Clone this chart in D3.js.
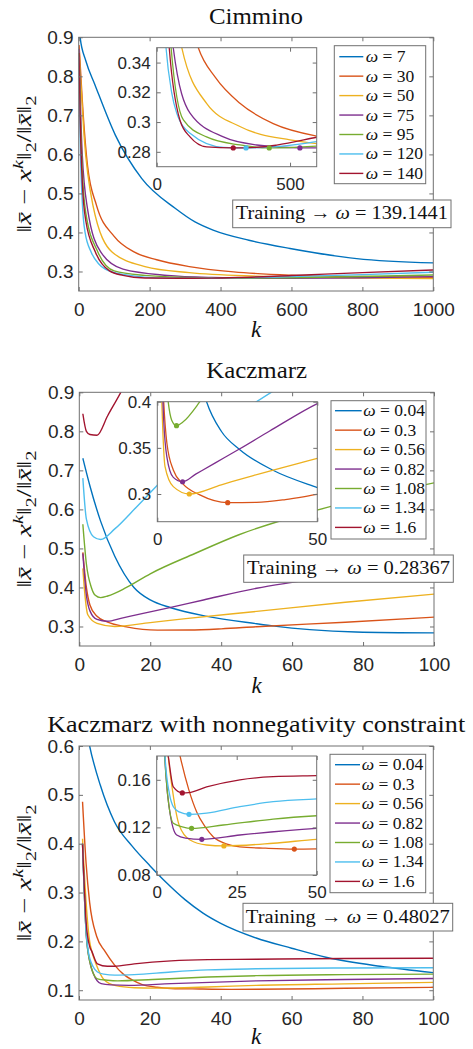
<!DOCTYPE html>
<html>
<head>
<meta charset="utf-8">
<script src="https://cdn.jsdelivr.net/npm/d3@7"></script>
<style>
body { margin: 0; background: #fff; }
svg { display: block; }
.tick text { font-family: "Liberation Sans", Arial, sans-serif; fill: #262626; }
.tick line { stroke: #707070; }
.serif { font-family: "Liberation Serif", "Times New Roman", serif; fill: #111; }
</style>
</head>
<body>
<script>
// MATLAB default line colours, one per omega
var colors = ['#0072BD', '#D95319', '#EDB120', '#7E2F8E', '#77AC30', '#4DBEEE', '#A2142F'];

// ---- Cimmino: [k, relative error] ----
var cimOmega = ['7', '30', '50', '75', '95', '120', '140'];
var cimW7 = [[1,0.93],[4,0.9],[20,0.84],[46,0.778],[103,0.65],[178,0.538],[272,0.462],[328,0.427],[379,0.406],[480,0.38],[596,0.359],[784,0.333],[1000,0.322]];
var cimW30 = [[1,0.88],[3,0.85],[10,0.74],[25,0.57],[50,0.47],[100,0.39],[156,0.35],[220,0.33],[312,0.3126],[437,0.299],[600,0.2906],[800,0.287],[1000,0.285]];
var cimW50 = [[1,0.87],[5,0.8],[15,0.65],[40,0.47],[94,0.35],[187,0.3126],[312,0.297],[500,0.288],[600,0.2855],[800,0.283],[1000,0.282]];
var cimW75 = [[1,0.87],[4,0.76],[10,0.6],[25,0.46],[62,0.35],[125,0.306],[250,0.29],[375,0.2846],[537,0.2826],[600,0.2827],[800,0.284],[1000,0.287]];
var cimW95 = [[1,0.86],[4,0.72],[10,0.56],[20,0.45],[54,0.35],[100,0.3014],[187,0.29],[312,0.2846],[422,0.2826],[600,0.2839],[800,0.287],[1000,0.291]];
var cimW120 = [[1,0.85],[4,0.65],[10,0.48],[18,0.4],[35,0.35],[56,0.32],[75,0.306],[125,0.2925],[250,0.283],[335,0.2826],[450,0.2835],[600,0.2868],[800,0.292],[1000,0.298]];
var cimW140 = [[1,0.86],[4,0.7],[10,0.53],[20,0.43],[47,0.35],[87,0.3014],[125,0.29],[187,0.2833],[287,0.2826],[375,0.283],[450,0.2845],[600,0.2898],[800,0.297],[1000,0.304]];

// ---- Kaczmarz ----
var kacOmega = ['0.04', '0.3', '0.56', '0.82', '1.08', '1.34', '1.6'];
var kacW004 = [[1,0.731],[3,0.66],[6,0.57],[10,0.48],[15.4,0.4],[20,0.368],[25.8,0.348],[36,0.326],[50,0.307],[55,0.301],[65,0.292],[78,0.286],[100,0.2836]];
var kacW03 = [[1,0.49],[2,0.4],[3,0.355],[5,0.326],[8,0.311],[13.3,0.299],[22,0.2906],[31,0.291],[40,0.294],[50,0.2995],[75,0.311],[100,0.324]];
var kacW056 = [[1,0.449],[1.5,0.39],[2.4,0.33],[5,0.308],[10,0.3],[20,0.31],[30,0.32],[50,0.3387],[75,0.362],[100,0.383]];
var kacW082 = [[1,0.487],[2,0.38],[3,0.34],[5,0.318],[7.9,0.3133],[12,0.3215],[18,0.3335],[25.8,0.349],[35,0.368],[50,0.398],[60,0.413],[80,0.44],[100,0.465]];
var kacW108 = [[1,0.562],[2,0.46],[3.4,0.4],[4.5,0.38],[6,0.374],[8,0.378],[13.3,0.4],[20,0.435],[32.6,0.487],[45,0.535],[67,0.598],[100,0.668]];
var kacW134 = [[1,0.68],[2,0.575],[4,0.53],[6,0.523],[10,0.55],[16,0.605],[22,0.662],[35,0.78],[50,0.876],[55,0.905]];
var kacW16 = [[1,0.845],[2,0.8],[3,0.792],[5,0.79],[8,0.84],[12,0.905],[15,0.96]];

// ---- Kaczmarz with nonnegativity constraint ----
var nnOmega = kacOmega;
var nnW004 = [[1,0.68],[3,0.6],[6,0.52],[10,0.445],[15,0.395],[20,0.355],[25,0.318],[30,0.285],[35,0.258],[40,0.237],[50,0.207],[60,0.186],[70,0.167],[85,0.149],[100,0.136]];
var nnW03 = [[1,0.486],[2,0.36],[3,0.28],[5,0.21],[7.3,0.18],[10,0.152],[12.5,0.133],[15,0.121],[17.7,0.112],[22,0.106],[26,0.1036],[34,0.1025],[43,0.1018],[50,0.1019],[75,0.104],[100,0.106]];
var nnW056 = [[1,0.41],[2,0.28],[3,0.2],[3.6,0.18],[5,0.15],[7,0.122],[10.4,0.1094],[15.6,0.1052],[21,0.1044],[36.4,0.1067],[50,0.11],[75,0.113],[100,0.116]];
var nnW082 = [[1,0.4],[2,0.22],[3,0.16],[4,0.135],[6.25,0.1136],[9,0.111],[14.1,0.11],[26,0.1136],[50,0.1192],[75,0.122],[100,0.124]];
var nnW108 = [[1,0.4],[2,0.22],[3,0.16],[5.2,0.1234],[8,0.1205],[10.9,0.1192],[20.8,0.122],[36.4,0.127],[50,0.1298],[75,0.132],[100,0.133]];
var nnW134 = [[1,0.4],[2,0.22],[2.6,0.18],[4,0.148],[5.2,0.1374],[7,0.133],[10.1,0.131],[15.6,0.132],[26,0.1374],[36.4,0.1416],[50,0.1439],[75,0.1455],[100,0.146]];
var nnW16 = [[1,0.4],[2,0.24],[3,0.19],[3.6,0.18],[5.2,0.154],[8,0.149],[10,0.1492],[15.6,0.154],[26,0.16],[36.4,0.1626],[50,0.1635],[75,0.165],[100,0.1655]];

// tick values
var cimXTicks = [0, 200, 400, 600, 800, 1000];
var kacXTicks = [0, 20, 40, 60, 80, 100];
var errYTicks = [0.3, 0.4, 0.5, 0.6, 0.7, 0.8, 0.9];
var nnYTicks = [0.1, 0.2, 0.3, 0.4, 0.5, 0.6];
var cimInsetX = [0, 500], cimInsetY = [0.28, 0.3, 0.32, 0.34];
var kacInsetX = [0, 50], kacInsetY = [0.3, 0.35, 0.4];
var nnInsetX = [0, 25, 50], nnInsetY = [0.08, 0.12, 0.16];

var svg = d3.select('body').append('svg')
    .attr('width', 473)
    .attr('height', 1049);
var defs = svg.append('defs');

var fmt = function(d) { return String(+d.toFixed(4)); };

function clipRect(id, b) {
    defs.append('clipPath').attr('id', id)
        .append('rect')
        .attr('x', b.l).attr('y', b.t)
        .attr('width', b.r - b.l).attr('height', b.b - b.t);
}

// box with inward ticks on all four sides, like MATLAB
function drawAxes(g, x, y, b, xTicks, yTicks, fs, xPad, yPad) {
    var tick = 4;
    g.append('g')
        .attr('transform', 'translate(0,' + b.b + ')')
        .call(d3.axisBottom(x).tickValues(xTicks).tickSize(-tick).tickSizeOuter(0).tickPadding(xPad).tickFormat(fmt));
    g.append('g')
        .attr('transform', 'translate(0,' + b.t + ')')
        .call(d3.axisTop(x).tickValues(xTicks).tickSize(-tick).tickSizeOuter(0).tickFormat(''));
    g.append('g')
        .attr('transform', 'translate(' + b.l + ',0)')
        .call(d3.axisLeft(y).tickValues(yTicks).tickSize(-tick).tickSizeOuter(0).tickPadding(yPad).tickFormat(fmt));
    g.append('g')
        .attr('transform', 'translate(' + b.r + ',0)')
        .call(d3.axisRight(y).tickValues(yTicks).tickSize(-tick).tickSizeOuter(0).tickFormat(''));
    g.selectAll('.domain').remove();
    g.selectAll('g').attr('font-size', fs);
    g.append('rect')
        .attr('x', b.l).attr('y', b.t)
        .attr('width', b.r - b.l).attr('height', b.b - b.t)
        .attr('fill', 'none')
        .attr('stroke', '#707070');
}

function omegaText(sel, value) {
    sel.append('tspan').attr('font-style', 'italic').text('ω');
    sel.append('tspan').text(' = ' + value);
}

function drawPanel(p) {
    var g = svg.append('g');
    var x = d3.scaleLinear().domain(p.xDomain).range([p.box.l, p.box.r]);
    var y = d3.scaleLinear().domain(p.yDomain).range([p.box.b, p.box.t]);
    var line = d3.line()
        .x(function(d) { return x(d[0]); })
        .y(function(d) { return y(d[1]); })
        .curve(d3.curveMonotoneX);

    clipRect('main' + p.id, p.box);
    g.append('g')
        .attr('clip-path', 'url(#main' + p.id + ')')
        .selectAll('path')
        .data(p.series)
        .join('path')
        .attr('d', line)
        .attr('fill', 'none')
        .attr('stroke', function(d, i) { return colors[i]; })
        .attr('stroke-width', 1.4);

    drawAxes(g, x, y, p.box, p.xTicks, p.yTicks, 19, 12, 5);

    // title
    g.append('text')
        .attr('class', 'serif')
        .attr('x', (p.box.l + p.box.r) / 2)
        .attr('y', p.titleY)
        .attr('text-anchor', 'middle')
        .attr('font-size', 24)
        .attr('textLength', p.titleLen)
        .attr('lengthAdjust', 'spacingAndGlyphs')
        .text(p.title);

    // x label
    g.append('text')
        .attr('class', 'serif')
        .attr('x', (p.box.l + p.box.r) / 2)
        .attr('y', p.xlabY)
        .attr('text-anchor', 'middle')
        .attr('font-size', 23)
        .attr('font-style', 'italic')
        .text('k');

    // y label
    var yl = g.append('text')
        .attr('class', 'serif')
        .attr('transform', 'translate(' + p.ylabX + ',' + (p.box.t + p.box.b) / 2 + ') rotate(-90)')
        .attr('text-anchor', 'middle')
        .attr('font-size', 20)
        .attr('textLength', 137)
        .attr('lengthAdjust', 'spacingAndGlyphs');
    yl.append('tspan').text('‖');
    yl.append('tspan').attr('font-style', 'italic').text('x\u0304');
    yl.append('tspan').text(' − ');
    yl.append('tspan').attr('font-style', 'italic').text('x');
    yl.append('tspan').attr('font-style', 'italic').attr('font-size', 14).attr('dy', -8).text('k');
    yl.append('tspan').attr('dy', 8).text('‖');
    yl.append('tspan').attr('font-size', 14).attr('dy', 5).text('2');
    yl.append('tspan').attr('dy', -5).text('/‖');
    yl.append('tspan').attr('font-style', 'italic').text('x\u0304');
    yl.append('tspan').text('‖');
    yl.append('tspan').attr('font-size', 14).attr('dy', 5).text('2');

    // inset zoom
    var ib = p.inset;
    var ix = d3.scaleLinear().domain(ib.xDomain).range([ib.l, ib.r]);
    var iy = d3.scaleLinear().domain(ib.yDomain).range([ib.b, ib.t]);
    var iline = d3.line()
        .x(function(d) { return ix(d[0]); })
        .y(function(d) { return iy(d[1]); })
        .curve(d3.curveMonotoneX);
    var ig = g.append('g');
    ig.append('rect')
        .attr('x', ib.l).attr('y', ib.t)
        .attr('width', ib.r - ib.l).attr('height', ib.b - ib.t)
        .attr('fill', '#fff');
    clipRect('inset' + p.id, ib);
    var inner = ig.append('g').attr('clip-path', 'url(#inset' + p.id + ')');
    inner.selectAll('path')
        .data(p.series)
        .join('path')
        .attr('d', iline)
        .attr('fill', 'none')
        .attr('stroke', function(d, i) { return colors[i]; })
        .attr('stroke-width', 1.3);

    // minimum of each series, shown when it falls inside the inset
    var mins = p.series.map(function(s, i) {
        var m = d3.least(s, function(d) { return d[1]; });
        return {k: m[0], v: m[1], i: i};
    }).filter(function(m) {
        return m.k >= ib.xDomain[0] && m.k <= ib.xDomain[1] &&
            m.v >= ib.yDomain[0] && m.v <= ib.yDomain[1];
    });
    inner.selectAll('circle')
        .data(mins)
        .join('circle')
        .attr('cx', function(d) { return ix(d.k); })
        .attr('cy', function(d) { return iy(d.v); })
        .attr('r', 2.6)
        .attr('fill', function(d) { return colors[d.i]; });

    drawAxes(ig, ix, iy, ib, ib.xTicks, ib.yTicks, 17, 11, 6);

    // legend
    var lg = p.legend;
    var leg = g.append('g');
    leg.append('rect')
        .attr('x', lg.l).attr('y', lg.t)
        .attr('width', lg.r - lg.l).attr('height', lg.b - lg.t)
        .attr('fill', '#fff')
        .attr('stroke', '#707070');
    p.omegas.forEach(function(w, i) {
        var ly = lg.y0 + i * 19.45;
        leg.append('line')
            .attr('x1', lg.lx0).attr('x2', lg.lx1)
            .attr('y1', ly).attr('y2', ly)
            .attr('stroke', colors[i])
            .attr('stroke-width', 1.4);
        var t = leg.append('text')
            .attr('class', 'serif')
            .attr('x', lg.tx)
            .attr('y', ly + 5.5)
            .attr('font-size', 17.5);
        omegaText(t, w);
    });

    // training result box
    var tb = p.train;
    g.append('rect')
        .attr('x', tb.l).attr('y', tb.t)
        .attr('width', tb.r - tb.l).attr('height', tb.b - tb.t)
        .attr('fill', '#fff')
        .attr('stroke', '#707070');
    var tt = g.append('text')
        .attr('class', 'serif')
        .attr('x', (tb.l + tb.r) / 2)
        .attr('y', (tb.t + tb.b) / 2 + 5.5)
        .attr('text-anchor', 'middle')
        .attr('font-size', 19)
        .attr('textLength', tb.len)
        .attr('lengthAdjust', 'spacingAndGlyphs');
    tt.append('tspan').text('Training → ');
    omegaText(tt, p.trainValue);
}

drawPanel({
    id: 1, title: 'Cimmino', titleY: 23.5, titleLen: 94,
    series: [cimW7, cimW30, cimW50, cimW75, cimW95, cimW120, cimW140],
    omegas: cimOmega, trainValue: '139.1441',
    box: {l: 78.7, r: 433.3, t: 37.3, b: 291},
    xDomain: [0, 1000], yDomain: [0.25, 0.9],
    xTicks: cimXTicks, yTicks: errYTicks,
    inset: {l: 156.7, r: 316.7, t: 47.7, b: 166.7, xDomain: [0, 600], yDomain: [0.27, 0.35],
        xTicks: cimInsetX, yTicks: cimInsetY},
    legend: {l: 334.3, r: 425.7, t: 45.7, b: 183.7, y0: 56.7, lx0: 339.3, lx1: 363.3, tx: 365.7},
    train: {l: 232.7, r: 451, t: 200, b: 227.7, len: 212},
    xlabY: 337.3, ylabX: 31
});

drawPanel({
    id: 2, title: 'Kaczmarz', titleY: 378.3, titleLen: 101,
    series: [kacW004, kacW03, kacW056, kacW082, kacW108, kacW134, kacW16],
    omegas: kacOmega, trainValue: '0.28367',
    box: {l: 79.3, r: 434, t: 392.3, b: 646},
    xDomain: [0, 100], yDomain: [0.25, 0.9],
    xTicks: kacXTicks, yTicks: errYTicks,
    inset: {l: 157.3, r: 317.3, t: 401.7, b: 521.7, xDomain: [0, 50], yDomain: [0.27, 0.4],
        xTicks: kacInsetX, yTicks: kacInsetY},
    legend: {l: 331, r: 426, t: 400.7, b: 539, y0: 410.7, lx0: 335, lx1: 361.7, tx: 363.3},
    train: {l: 243.7, r: 453.3, t: 555, b: 582.3, len: 203},
    xlabY: 692.7, ylabX: 31
});

drawPanel({
    id: 3, title: 'Kaczmarz with nonnegativity constraint', titleY: 731.7, titleLen: 418,
    series: [nnW004, nnW03, nnW056, nnW082, nnW108, nnW134, nnW16],
    omegas: nnOmega, trainValue: '0.48027',
    box: {l: 79, r: 433.3, t: 746, b: 1000},
    xDomain: [0, 100], yDomain: [0.08, 0.6],
    xTicks: kacXTicks, yTicks: nnYTicks,
    inset: {l: 156.7, r: 316.7, t: 756, b: 875, xDomain: [0, 50], yDomain: [0.08, 0.18],
        xTicks: nnInsetX, yTicks: nnInsetY},
    legend: {l: 330, r: 425.7, t: 754.3, b: 892.7, y0: 764.7, lx0: 335, lx1: 360, tx: 361.7},
    train: {l: 243, r: 452.7, t: 903.3, b: 931, len: 204},
    xlabY: 1043.5, ylabX: 31
});
</script>
</body>
</html>
